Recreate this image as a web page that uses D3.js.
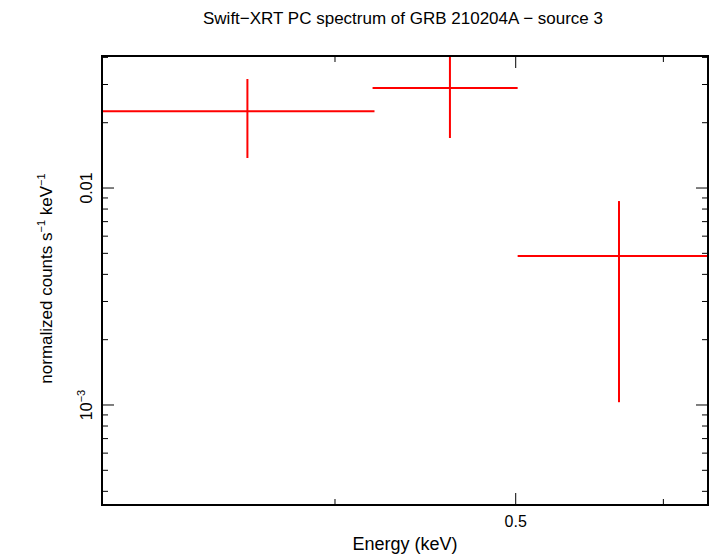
<!DOCTYPE html>
<html><head><meta charset="utf-8">
<script src="https://cdn.jsdelivr.net/npm/d3@7.9.0/dist/d3.min.js"></script>
<style>body{margin:0;background:#fff}text{font-family:"Liberation Sans",Arial,sans-serif}</style>
</head><body>
<svg id="c" width="710" height="556"></svg>
<script>
// spectrum bins: energy range (keV), centre, flux with error range
const eLo = [0.3, 0.419, 0.5012];
const eHi = [0.420, 0.5012, 0.64];
const eMid = [0.359, 0.461, 0.568];
const flux = [0.0226, 0.0289, 0.00486];
const fluxLo = [0.01375, 0.0170, 0.00103];
const fluxHi = [0.0318, 0.0406, 0.00871];
const xMajor = [0.5];
const xMinor = [0.3, 0.4, 0.6];
const yMajor = [0.01, 0.001];

const svg = d3.select('#c');
const L = 102, R = 708, T = 56, B = 505;
const x = d3.scaleLog().domain([0.3, 0.634]).range([L, R]);
const y = d3.scaleLog().domain([0.000346, 0.0406]).range([B, T]);

// y minor ticks
let yMinor = [];
[0.0001, 0.001, 0.01].forEach(d => { for (let k = 2; k <= 9; k++) yMinor.push(d * k); });
yMinor = yMinor.filter(v => v > y.domain()[0] && v < y.domain()[1]);

const g = svg.append('g').attr('stroke', '#000').attr('stroke-width', 1);
function tickY(v, len) {
  g.append('line').attr('x1', L).attr('x2', L + len).attr('y1', y(v)).attr('y2', y(v));
  g.append('line').attr('x1', R).attr('x2', R - len).attr('y1', y(v)).attr('y2', y(v));
}
function tickX(v, len) {
  g.append('line').attr('y1', B).attr('y2', B - len).attr('x1', x(v)).attr('x2', x(v));
  g.append('line').attr('y1', T).attr('y2', T + len).attr('x1', x(v)).attr('x2', x(v));
}
yMinor.forEach(v => tickY(v, 6));
yMajor.forEach(v => tickY(v, 12));
xMinor.forEach(v => tickX(v, 6));
xMajor.forEach(v => tickX(v, 12));

// data
const d = svg.append('g').attr('stroke', '#f00').attr('stroke-width', 2);
flux.forEach((f, i) => {
  d.append('line').attr('x1', x(eLo[i])).attr('x2', Math.min(x(eHi[i]), R)).attr('y1', y(f)).attr('y2', y(f));
  d.append('line').attr('x1', x(eMid[i])).attr('x2', x(eMid[i])).attr('y1', y(fluxLo[i])).attr('y2', Math.max(y(fluxHi[i]), T));
});

svg.append('rect').attr('x', L).attr('y', T).attr('width', R - L).attr('height', B - T)
  .attr('fill', 'none').attr('stroke', '#000').attr('stroke-width', 2);

// labels
svg.append('text').attr('x', x(0.5)).attr('y', B + 22).attr('text-anchor', 'middle').attr('font-size', 16).text('0.5');
svg.append('text').attr('transform', `translate(${L - 10},${y(0.01)}) rotate(-90)`).attr('text-anchor', 'middle').attr('font-size', 16).text('0.01');
const t3 = svg.append('text').attr('transform', `translate(${L - 10},${y(0.001)}) rotate(-90)`).attr('text-anchor', 'middle').attr('font-size', 16);
t3.append('tspan').text('10');
t3.append('tspan').attr('dy', -7).attr('font-size', 11).text('−3');

svg.append('text').attr('x', 405).attr('y', 550).attr('text-anchor', 'middle').attr('font-size', 18).text('Energy (keV)');
const yl = svg.append('text').attr('transform', `translate(52,${(T + B) / 2 - 2}) rotate(-90)`).attr('text-anchor', 'middle').attr('font-size', 17);
yl.append('tspan').text('normalized counts s');
yl.append('tspan').attr('dy', -7).attr('font-size', 11).text('−1');
yl.append('tspan').attr('dy', 7).text(' keV');
yl.append('tspan').attr('dy', -7).attr('font-size', 11).text('−1');
svg.append('text').attr('x', 403).attr('y', 24).attr('text-anchor', 'middle').attr('font-size', 17)
  .text('Swift−XRT PC spectrum of GRB 210204A − source 3');
</script>
</body></html>
